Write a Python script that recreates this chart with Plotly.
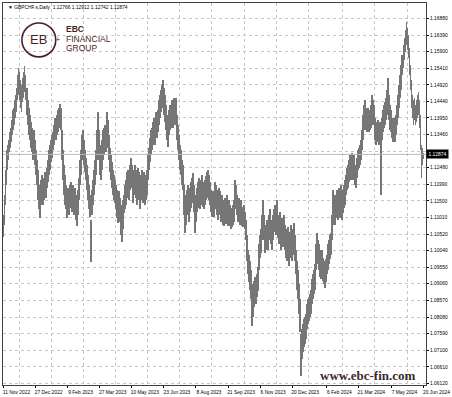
import pandas as pd
import plotly.graph_objects as go

# ---- data (GBPCHF.s daily, 11 Nov 2022 .. 20 Jun 2024) ----
DATES = pd.bdate_range("2022-11-11", "2024-06-20")

HIGHS = [
    1.1110, 1.1169, 1.1242, 1.1301, 1.1316, 1.1330, 1.1354, 1.1366, 1.1389, 1.1419,
    1.1424, 1.1448, 1.1463, 1.1483, 1.1521, 1.1542, 1.1530, 1.1507, 1.1492, 1.1513,
    1.1530, 1.1548, 1.1521, 1.1483, 1.1448, 1.1424, 1.1404, 1.1383, 1.1366, 1.1345,
    1.1360, 1.1330, 1.1301, 1.1272, 1.1242, 1.1198, 1.1169, 1.1213, 1.1228, 1.1198,
    1.1219, 1.1236, 1.1225, 1.1248, 1.1272, 1.1301, 1.1316, 1.1330, 1.1345, 1.1354,
    1.1375, 1.1395, 1.1375, 1.1404, 1.1419, 1.1424, 1.1436, 1.1424, 1.1360, 1.1301,
    1.1257, 1.1228, 1.1198, 1.1183, 1.1189, 1.1169, 1.1198, 1.1207, 1.1183, 1.1198,
    1.1178, 1.1189, 1.1169, 1.1154, 1.1183, 1.1219, 1.1272, 1.1301, 1.1345, 1.1360,
    1.1330, 1.1301, 1.1277, 1.1257, 1.1228, 1.1198, 1.1169, 1.1095, 1.1183, 1.1213,
    1.1242, 1.1272, 1.1301, 1.1360, 1.1413, 1.1360, 1.1316, 1.1301, 1.1330, 1.1360,
    1.1366, 1.1375, 1.1360, 1.1413, 1.1389, 1.1345, 1.1307, 1.1286, 1.1266, 1.1242,
    1.1228, 1.1213, 1.1198, 1.1183, 1.1169, 1.1178, 1.1160, 1.1139, 1.1125, 1.1154,
    1.1169, 1.1198, 1.1213, 1.1236, 1.1242, 1.1228, 1.1257, 1.1277, 1.1257, 1.1228,
    1.1242, 1.1257, 1.1242, 1.1219, 1.1248, 1.1236, 1.1213, 1.1228, 1.1242, 1.1219,
    1.1236, 1.1213, 1.1228, 1.1242, 1.1286, 1.1307, 1.1336, 1.1360, 1.1366, 1.1383,
    1.1395, 1.1389, 1.1413, 1.1404, 1.1419, 1.1448, 1.1463, 1.1477, 1.1492, 1.1507,
    1.1483, 1.1463, 1.1433, 1.1404, 1.1389, 1.1419, 1.1433, 1.1424, 1.1448, 1.1433,
    1.1454, 1.1442, 1.1454, 1.1404, 1.1375, 1.1345, 1.1316, 1.1301, 1.1272, 1.1257,
    1.1198, 1.1154, 1.1169, 1.1183, 1.1198, 1.1169, 1.1189, 1.1207, 1.1219, 1.1233,
    1.1198, 1.1139, 1.1169, 1.1189, 1.1207, 1.1219, 1.1198, 1.1213, 1.1228, 1.1207,
    1.1189, 1.1213, 1.1225, 1.1236, 1.1242, 1.1228, 1.1207, 1.1183, 1.1169, 1.1178,
    1.1160, 1.1207, 1.1198, 1.1183, 1.1169, 1.1189, 1.1178, 1.1160, 1.1169, 1.1154,
    1.1139, 1.1160, 1.1154, 1.1169, 1.1145, 1.1154, 1.1139, 1.1130, 1.1125, 1.1139,
    1.1154, 1.1213, 1.1198, 1.1169, 1.1154, 1.1160, 1.1139, 1.1154, 1.1133, 1.1125,
    1.1139, 1.1119, 1.1095, 1.1051, 1.1007, 1.0992, 1.0972, 1.0948, 1.0904, 1.0889,
    1.0913, 1.0925, 1.0904, 1.0934, 1.0954, 1.1022, 1.1051, 1.1066, 1.1110, 1.1154,
    1.1110, 1.1080, 1.1066, 1.1095, 1.1080, 1.1110, 1.1125, 1.1095, 1.1080, 1.1110,
    1.1125, 1.1139, 1.1125, 1.1154, 1.1110, 1.1095, 1.1119, 1.1080, 1.1101, 1.1089,
    1.1110, 1.1080, 1.1066, 1.1051, 1.1072, 1.1036, 1.1060, 1.1080, 1.1051, 1.1066,
    1.1086, 1.1051, 1.1007, 1.0972, 1.0948, 1.0904, 1.0860, 1.0757, 1.0772, 1.0787,
    1.0801, 1.0807, 1.0816, 1.0845, 1.0860, 1.0866, 1.0875, 1.0889, 1.0919, 1.0934,
    1.0948, 1.0963, 1.1022, 1.1057, 1.1036, 1.1022, 1.1007, 1.0992, 1.1007, 1.0983,
    1.0972, 1.0963, 1.0978, 1.0992, 1.1022, 1.1036, 1.1051, 1.1057, 1.1110, 1.1183,
    1.1169, 1.1154, 1.1169, 1.1183, 1.1169, 1.1189, 1.1178, 1.1198, 1.1169, 1.1183,
    1.1198, 1.1213, 1.1228, 1.1248, 1.1257, 1.1272, 1.1286, 1.1277, 1.1292, 1.1272,
    1.1286, 1.1257, 1.1248, 1.1277, 1.1301, 1.1307, 1.1316, 1.1330, 1.1360, 1.1404,
    1.1433, 1.1448, 1.1424, 1.1413, 1.1424, 1.1404, 1.1419, 1.1433, 1.1463, 1.1448,
    1.1433, 1.1395, 1.1383, 1.1375, 1.1389, 1.1375, 1.1383, 1.1375, 1.1395, 1.1419,
    1.1433, 1.1442, 1.1454, 1.1477, 1.1513, 1.1463, 1.1433, 1.1419, 1.1395, 1.1383,
    1.1395, 1.1389, 1.1404, 1.1433, 1.1463, 1.1492, 1.1521, 1.1551, 1.1580, 1.1610,
    1.1630, 1.1654, 1.1677, 1.1660, 1.1639, 1.1601, 1.1551, 1.1507, 1.1463, 1.1448,
    1.1454, 1.1433, 1.1448, 1.1463, 1.1472, 1.1448, 1.1404, 1.1316, 1.1307, 1.12912,
]

LOWS = [
    1.1045, 1.1080, 1.1139, 1.1198, 1.1242, 1.1272, 1.1295, 1.1307, 1.1325, 1.1345,
    1.1360, 1.1375, 1.1395, 1.1413, 1.1448, 1.1463, 1.1448, 1.1424, 1.1413, 1.1442,
    1.1454, 1.1472, 1.1448, 1.1404, 1.1375, 1.1345, 1.1330, 1.1307, 1.1295, 1.1272,
    1.1286, 1.1257, 1.1228, 1.1198, 1.1154, 1.1125, 1.1101, 1.1139, 1.1154, 1.1139,
    1.1154, 1.1169, 1.1160, 1.1189, 1.1207, 1.1228, 1.1242, 1.1266, 1.1277, 1.1301,
    1.1316, 1.1336, 1.1330, 1.1345, 1.1354, 1.1366, 1.1375, 1.1360, 1.1272, 1.1213,
    1.1169, 1.1139, 1.1125, 1.1101, 1.1119, 1.1110, 1.1130, 1.1139, 1.1119, 1.1125,
    1.1110, 1.1125, 1.1095, 1.1075, 1.1110, 1.1154, 1.1198, 1.1228, 1.1272, 1.1295,
    1.1257, 1.1236, 1.1213, 1.1183, 1.1154, 1.1125, 1.1104, 1.0969, 1.1110, 1.1139,
    1.1169, 1.1198, 1.1228, 1.1272, 1.1316, 1.1272, 1.1228, 1.1213, 1.1242, 1.1272,
    1.1286, 1.1301, 1.1295, 1.1330, 1.1307, 1.1272, 1.1236, 1.1213, 1.1189, 1.1169,
    1.1154, 1.1145, 1.1125, 1.1101, 1.1086, 1.1110, 1.1089, 1.1051, 1.1028, 1.1066,
    1.1116, 1.1125, 1.1139, 1.1160, 1.1169, 1.1154, 1.1183, 1.1198, 1.1189, 1.1145,
    1.1169, 1.1183, 1.1160, 1.1139, 1.1169, 1.1154, 1.1125, 1.1154, 1.1169, 1.1145,
    1.1160, 1.1139, 1.1154, 1.1169, 1.1213, 1.1242, 1.1266, 1.1286, 1.1301, 1.1316,
    1.1330, 1.1316, 1.1345, 1.1336, 1.1354, 1.1375, 1.1395, 1.1413, 1.1424, 1.1433,
    1.1404, 1.1383, 1.1360, 1.1330, 1.1310, 1.1345, 1.1360, 1.1366, 1.1375, 1.1366,
    1.1389, 1.1375, 1.1383, 1.1330, 1.1301, 1.1272, 1.1242, 1.1228, 1.1198, 1.1183,
    1.1110, 1.1057, 1.1080, 1.1110, 1.1125, 1.1089, 1.1119, 1.1130, 1.1145, 1.1160,
    1.1119, 1.1057, 1.1089, 1.1119, 1.1130, 1.1154, 1.1125, 1.1139, 1.1154, 1.1133,
    1.1125, 1.1139, 1.1154, 1.1160, 1.1169, 1.1154, 1.1139, 1.1119, 1.1104, 1.1110,
    1.1104, 1.1139, 1.1125, 1.1110, 1.1095, 1.1119, 1.1110, 1.1089, 1.1101, 1.1080,
    1.1075, 1.1089, 1.1083, 1.1095, 1.1075, 1.1080, 1.1075, 1.1066, 1.1072, 1.1080,
    1.1089, 1.1139, 1.1125, 1.1110, 1.1089, 1.1095, 1.1080, 1.1089, 1.1075, 1.1072,
    1.1080, 1.1066, 1.1036, 1.0972, 1.0934, 1.0910, 1.0889, 1.0860, 1.0781, 1.0807,
    1.0839, 1.0860, 1.0845, 1.0866, 1.0884, 1.0948, 1.0983, 1.0998, 1.1036, 1.1051,
    1.1036, 1.0998, 1.1007, 1.1022, 1.1007, 1.1036, 1.1051, 1.1022, 1.1007, 1.1036,
    1.1060, 1.1072, 1.1051, 1.1080, 1.1042, 1.1022, 1.1048, 1.1007, 1.1031, 1.1013,
    1.1036, 1.1007, 1.0983, 1.0972, 1.0992, 1.0957, 1.0983, 1.1007, 1.0972, 1.0992,
    1.1013, 1.0972, 1.0934, 1.0889, 1.0860, 1.0816, 1.0763, 1.0634, 1.0684, 1.0704,
    1.0719, 1.0728, 1.0742, 1.0772, 1.0787, 1.0795, 1.0807, 1.0816, 1.0845, 1.0860,
    1.0875, 1.0889, 1.0948, 1.0978, 1.0963, 1.0948, 1.0925, 1.0919, 1.0934, 1.0913,
    1.0904, 1.0895, 1.0910, 1.0934, 1.0948, 1.0963, 1.0978, 1.0992, 1.1036, 1.1080,
    1.1095, 1.1080, 1.1101, 1.1110, 1.1095, 1.1119, 1.1101, 1.1125, 1.1095, 1.1116,
    1.1130, 1.1139, 1.1169, 1.1183, 1.1189, 1.1207, 1.1219, 1.1213, 1.1228, 1.1213,
    1.1219, 1.1198, 1.1189, 1.1219, 1.1242, 1.1248, 1.1257, 1.1272, 1.1301, 1.1330,
    1.1360, 1.1383, 1.1360, 1.1354, 1.1366, 1.1354, 1.1360, 1.1366, 1.1389, 1.1375,
    1.1375, 1.1330, 1.1316, 1.1325, 1.1330, 1.1316, 1.1322, 1.1169, 1.1330, 1.1354,
    1.1366, 1.1375, 1.1389, 1.1404, 1.1433, 1.1389, 1.1360, 1.1354, 1.1336, 1.1325,
    1.1330, 1.1325, 1.1345, 1.1375, 1.1395, 1.1424, 1.1454, 1.1477, 1.1521, 1.1542,
    1.1566, 1.1589, 1.1610, 1.1595, 1.1571, 1.1521, 1.1477, 1.1424, 1.1395, 1.1375,
    1.1389, 1.1375, 1.1383, 1.1395, 1.1404, 1.1366, 1.1301, 1.1219, 1.1257, 1.12742,
]

LAST_BAR = {"open": 1.12766, "high": 1.12912, "low": 1.12742, "close": 1.12874}

DATE_TICK_LABELS = ["11 Nov 2022", "27 Dec 2022", "9 Feb 2023", "27 Mar 2023",
                    "10 May 2023", "23 Jun 2023", "8 Aug 2023", "21 Sep 2023",
                    "6 Nov 2023", "20 Dec 2023", "6 Feb 2024", "21 Mar 2024",
                    "7 May 2024", "20 Jun 2024"]

PRICE_TICKS = [1.06120, 1.06610, 1.07100, 1.07590, 1.08080, 1.08570, 1.09060,
               1.09550, 1.10040, 1.10520, 1.11010, 1.11500, 1.11990, 1.12480,
               1.12970, 1.13460, 1.13950, 1.14440, 1.14920, 1.15410, 1.15900,
               1.16390, 1.16880]

# ---- figure ----
n = len(HIGHS)
xs = list(range(n))
date_text = [d.strftime("%d %b %Y") for d in DATES[:n]]
tick_idx = [int(DATES.get_loc(pd.to_datetime(t, format="%d %b %Y"))) for t in DATE_TICK_LABELS]
grid_idx = [t + 16 for t in tick_idx[:-1]]

last = LAST_BAR["close"]
price_text = ["" if abs(v - 1.12970) < 1e-9 else f"{v:.5f}" for v in PRICE_TICKS]

CANDLE = "#767676"
GRID = "#c6c6c6"
BRAND = "#4b1f24"
AXFONT = dict(family="Liberation Sans", size=4.9, color="#000000")

fig = go.Figure()
fig.add_trace(go.Bar(
    x=xs,
    y=[h - l for h, l in zip(HIGHS, LOWS)],
    base=LOWS,
    width=0.9,
    marker=dict(color=CANDLE, line=dict(width=0)),
    customdata=list(zip(date_text, HIGHS, LOWS)),
    hovertemplate="%{customdata[0]}<br>H %{customdata[1]:.5f}<br>L %{customdata[2]:.5f}<extra></extra>",
    showlegend=False,
))

fig.update_layout(
    width=452, height=397,
    margin=dict(l=2, r=25, t=3, b=11),
    paper_bgcolor="white", plot_bgcolor="white",
    bargap=0,
    xaxis=dict(
        range=[-0.5, 421.5],
        tickmode="array", tickvals=tick_idx, ticktext=DATE_TICK_LABELS,
        ticklabelshift=13,
        ticks="outside", ticklen=2, tickcolor="#000000",
        tickfont=AXFONT,
        showgrid=False, zeroline=False,
        minor=dict(tickmode="array", tickvals=grid_idx, showgrid=True,
                   gridcolor=GRID, griddash="dot", gridwidth=1, ticks=""),
        showline=True, mirror=True, linecolor="#404040", linewidth=1,
    ),
    yaxis=dict(
        side="right",
        range=[1.06076, 1.17336],
        tickmode="array", tickvals=PRICE_TICKS, ticktext=price_text,
        ticks="outside", ticklen=2, tickcolor="#000000",
        tickfont=AXFONT,
        showgrid=True, gridcolor=GRID, griddash="dot", gridwidth=1,
        zeroline=False,
        showline=True, mirror=True, linecolor="#404040", linewidth=1,
    ),
)

# bid line and current-price label
fig.add_shape(type="line", xref="paper", x0=0, x1=1, yref="y", y0=last, y1=last,
              line=dict(color="#b8b8b8", width=1))
fig.add_annotation(xref="paper", x=1.0, xanchor="left", yref="y", y=last, yanchor="middle",
                   text=f"{last:.5f}", showarrow=False, bgcolor="#000000",
                   font=dict(family="Liberation Sans", size=4.9, color="#ffffff"),
                   borderpad=1.5)

# header text
fig.add_annotation(xref="paper", x=0.006, xanchor="left", yref="paper", y=0.9895,
                   yanchor="middle",
                   text=("\u25bc GBPCHF.s,Daily  {o:.5f} {h:.5f} {l:.5f} {c:.5f}"
                         .format(o=LAST_BAR["open"], h=LAST_BAR["high"],
                                 l=LAST_BAR["low"], c=LAST_BAR["close"])),
                   showarrow=False, font=dict(family="Liberation Sans", size=4.9, color="#000000"))

# logo
fig.add_shape(type="circle", xref="paper", yref="paper",
              x0=0.0447, x1=0.1247, y0=0.859, y1=0.9478,
              line=dict(color=BRAND, width=1.6))
fig.add_annotation(xref="paper", yref="paper", x=0.0847, xanchor="center",
                   y=0.9034, yanchor="middle", text="EB",
                   showarrow=False, font=dict(family="Liberation Sans", size=13, color=BRAND))
fig.add_annotation(xref="paper", yref="paper", x=0.1294, xanchor="center",
                   y=0.9034, yanchor="middle", text="+",
                   showarrow=False, font=dict(family="Liberation Sans", size=7, color=BRAND))
fig.add_annotation(xref="paper", yref="paper", x=0.1435, xanchor="left",
                   y=0.9308, yanchor="middle",
                   text="<b>EBC</b>", showarrow=False,
                   font=dict(family="Liberation Sans", size=8.5, color=BRAND))
fig.add_annotation(xref="paper", yref="paper", x=0.1435, xanchor="left",
                   y=0.9047, yanchor="middle",
                   text="FINANCIAL", showarrow=False,
                   font=dict(family="Liberation Sans", size=8.5, color=BRAND))
fig.add_annotation(xref="paper", yref="paper", x=0.1435, xanchor="left",
                   y=0.8812, yanchor="middle",
                   text="GROUP", showarrow=False,
                   font=dict(family="Liberation Sans", size=8.5, color=BRAND))

# watermark
fig.add_annotation(xref="paper", yref="paper", x=0.7435, xanchor="left",
                   y=0.026, yanchor="middle",
                   text="<b>www.ebc-fin.com</b>", showarrow=False,
                   font=dict(family="Liberation Serif", size=13, color="#3a2a2c"))

fig.write_html("out.html")
